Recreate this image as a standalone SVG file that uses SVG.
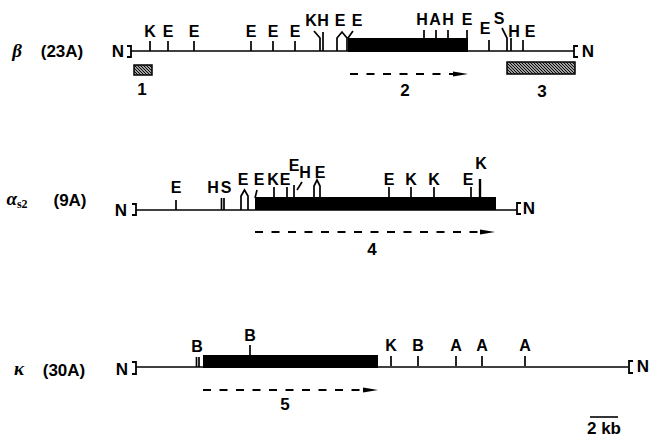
<svg xmlns="http://www.w3.org/2000/svg" width="650" height="438" viewBox="0 0 650 438">
<style>
.t{font-family:"Liberation Sans",Arial,sans-serif;font-weight:bold;font-size:16px;text-anchor:middle;fill:#000}
.n{font-family:"Liberation Sans",Arial,sans-serif;font-weight:bold;font-size:17px;text-anchor:middle;fill:#000}
.g{font-family:"Liberation Serif","Times New Roman",serif;font-style:italic;font-weight:bold;font-size:19px;text-anchor:middle;fill:#000}
.ln{stroke:#000;stroke-width:1.6;fill:none}
.br{stroke:#000;stroke-width:1.8;fill:none}
.tk{stroke:#000;stroke-width:1.7;fill:none}
.bx{fill:#000}
.hb{fill:url(#hatch);stroke:#000;stroke-width:1.5}
.da{stroke:#000;stroke-width:2;stroke-dasharray:8 8.5;fill:none}
.ah{fill:#000}
</style>
<defs>
<pattern id="hatch" patternUnits="userSpaceOnUse" width="3" height="3">
<rect width="3" height="3" fill="#e8e8e8"/>
<path d="M-1,-1 L4,4 M-1,2 L1,4 M2,-1 L4,1" stroke="#000" stroke-width="1.2"/>
</pattern>
</defs>

<g id="beta">
<text x="17" y="57" class="g">β</text>
<text x="62" y="57" class="n">(23A)</text>
<text x="118" y="57" class="n">N</text>
<path class="br" d="M127,46 H131 V57 H127"/>
<path class="ln" d="M131,51 H574"/>
<path class="br" d="M578,46 H574 V57 H578"/>
<text x="588" y="57" class="n">N</text>
<rect class="bx" x="348" y="38" width="120" height="14"/>
<path class="tk" d="M150,41 V51 M168,41 V51 M194,41 V51 M251,41 V51 M273,41 V51 M295,41 V51"/>
<text x="150" y="37" class="t">K</text>
<text x="168" y="37" class="t">E</text>
<text x="194" y="37" class="t">E</text>
<text x="251" y="37" class="t">E</text>
<text x="273" y="37" class="t">E</text>
<text x="295" y="37" class="t">E</text>
<path class="tk" d="M314,31 L320,38 V51 M323,32 V51"/>
<text x="311" y="26" class="t">K</text>
<text x="323" y="26" class="t">H</text>
<path class="tk" d="M337,51 V38 L342,32 L347,38 V51 M348,38 L353,31"/>
<text x="340" y="26" class="t">E</text>
<text x="357" y="26" class="t">E</text>
<path class="tk" d="M424,30 V38 M436,30 V38 M448,30 V38 M467,30 V38"/>
<text x="422" y="25" class="t">H</text>
<text x="435" y="25" class="t">A</text>
<text x="448" y="25" class="t">H</text>
<text x="467" y="25" class="t">E</text>
<path class="tk" d="M489,40 V51"/>
<text x="485" y="34" class="t">E</text>
<path class="tk" d="M502,28 L507,38 V51 M511,38 V51"/>
<text x="499" y="24" class="t">S</text>
<path class="tk" d="M523,40 V51"/>
<text x="514" y="37" class="t">H</text>
<text x="530" y="37" class="t">E</text>
</g>

<g id="alpha">
<text x="17" y="205" class="g">α<tspan font-size="12" dy="3" font-style="normal">s2</tspan></text>
<text x="70" y="206" class="n">(9A)</text>
<text x="121" y="216" class="n">N</text>
<path class="br" d="M132,204 H136 V215 H132"/>
<path class="ln" d="M136,210 H517"/>
<path class="br" d="M521,203 H517 V214 H521"/>
<text x="529" y="214" class="n">N</text>
<rect class="bx" x="255" y="197" width="241" height="13"/>
<path class="tk" d="M176,200 V210"/>
<text x="176" y="193" class="t">E</text>
<path class="tk" d="M221.5,198 V210 M224,198 V210"/>
<text x="213" y="193" class="t">H</text>
<text x="226" y="193" class="t">S</text>
<path class="tk" d="M241,210 V196 L244.5,190 L248,196 V210"/>
<text x="243" y="185" class="t">E</text>
<path class="tk" d="M255,198 L257,190"/>
<text x="259" y="185" class="t">E</text>
<path class="tk" d="M274,187 V197 M287,187 V197 M294,185 V197 M297,190 L302,182"/>
<text x="273" y="185" class="t">K</text>
<text x="285" y="185" class="t">E</text>
<text x="294" y="171" class="t">E</text>
<path class="tk" d="M314,197 V186 L317,180 L320,186 V197"/>
<text x="305" y="178" class="t">H</text>
<text x="320" y="178" class="t">E</text>
<path class="tk" d="M389,187 V197 M411,187 V197 M434,187 V197 M471,187 V197"/>
<path d="M480,179 V197" stroke="#000" stroke-width="2.4"/>
<text x="389" y="185" class="t">E</text>
<text x="411" y="185" class="t">K</text>
<text x="434" y="185" class="t">K</text>
<text x="468" y="185" class="t">E</text>
<text x="481" y="169" class="t">K</text>
</g>

<g id="kappa">
<text x="19" y="375" class="g">κ</text>
<text x="64" y="376" class="n">(30A)</text>
<text x="122" y="375" class="n">N</text>
<path class="br" d="M132,362 H136 V374 H132"/>
<path class="ln" d="M136,367 H628"/>
<path class="br" d="M633,361 H629 V373 H633"/>
<text x="643" y="372" class="n">N</text>
<rect class="bx" x="203" y="355" width="175" height="13"/>
<path class="tk" d="M196.5,357 V367 M199,357 V367"/>
<text x="197" y="352" class="t">B</text>
<path class="tk" d="M250,345 V355"/>
<text x="250" y="341" class="t">B</text>
<path class="tk" d="M391,356 V366 M418,356 V366 M456,356 V366 M482,356 V366 M525,356 V366"/>
<text x="391" y="351" class="t">K</text>
<text x="418" y="351" class="t">B</text>
<text x="456" y="351" class="t">A</text>
<text x="482" y="351" class="t">A</text>
<text x="525" y="351" class="t">A</text>
</g>

<g id="probes">
<rect class="hb" x="134" y="65" width="18" height="10"/>
<text x="142" y="95" class="n">1</text>
<rect class="hb" x="507" y="62" width="68" height="12"/>
<text x="542" y="97" class="n">3</text>
</g>

<g id="connectors">
<path class="da" d="M350,74 H456"/>
<path class="ah" d="M453,71.5 L468,74 L453,76.5 Z"/>
<path class="da" d="M255,232 H483"/>
<path class="ah" d="M480,229.5 L495,232 L480,234.5 Z"/>
<path class="da" d="M203,390 H366"/>
<path class="ah" d="M363,387.5 L378,390 L363,392.5 Z"/>
</g>

<g id="labels">
<text x="405" y="96" class="n">2</text>
<text x="372" y="255" class="n">4</text>
<text x="285" y="410" class="n">5</text>
</g>

<g id="scale">
<path d="M590,417 H618" stroke="#000" stroke-width="1.6"/>
<text x="604" y="434" class="n">2 kb</text>
</g>
</svg>
